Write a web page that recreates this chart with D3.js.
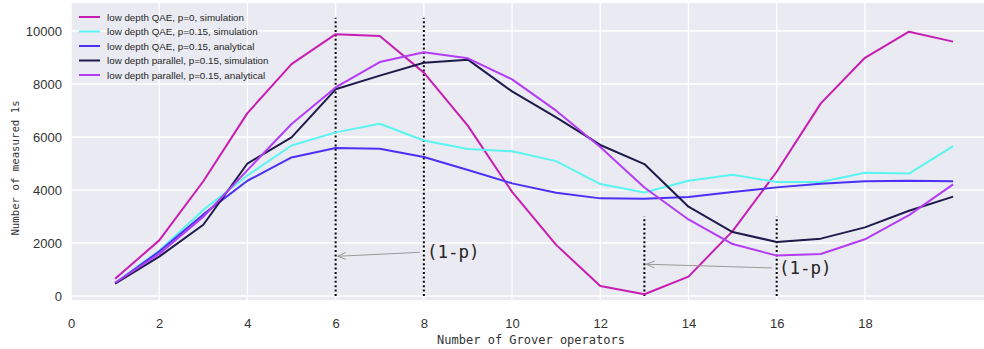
<!DOCTYPE html>
<html>
<head>
<meta charset="utf-8">
<script src="https://cdn.jsdelivr.net/npm/d3@7/dist/d3.min.js"></script>
<style>
  html, body { margin: 0; padding: 0; background: #ffffff; }
  svg { display: block; }
</style>
</head>
<body>
<svg id="chart" width="984" height="349"></svg>
<script>
// Number of Grover operators applied
const grover = [1,2,3,4,5,6,7,8,9,10,11,12,13,14,15,16,17,18,19,20];

// Counts of measured 1s per configuration
const qaeP0Sim      = [650,2100,4330,6900,8750,9880,9810,8430,6420,3930,1930,380,65,730,2450,4690,7270,8990,9975,9600];
const qaeP15Sim     = [500,1710,3250,4550,5680,6175,6500,5870,5545,5460,5090,4225,3905,4350,4580,4300,4300,4655,4620,5660];
const qaeP15Ana     = [480,1680,3080,4350,5230,5585,5560,5245,4755,4250,3900,3685,3670,3735,3925,4100,4240,4330,4350,4330];
const parP15Sim     = [470,1485,2690,5000,5985,7800,8315,8805,8920,7720,6740,5700,4980,3370,2415,2040,2165,2590,3220,3750];
const parP15Ana     = [500,1585,2990,4750,6490,7870,8830,9195,8970,8175,6995,5620,4095,2890,1960,1525,1585,2140,3055,4215];

const seriesNames  = [
  "low depth QAE, p=0, simulation",
  "low depth QAE, p=0.15, simulation",
  "low depth QAE, p=0.15, analytical",
  "low depth parallel, p=0.15, simulation",
  "low depth parallel, p=0.15, analytical"
];
const seriesColors = ["#c71db3", "#5af5f0", "#4b30f5", "#1e1a4c", "#b43cf5"];
const seriesValues = [qaeP0Sim, qaeP15Sim, qaeP15Ana, parP15Sim, parP15Ana];

const xTicks = [0,2,4,6,8,10,12,14,16,18];
const yTicks = [0,2000,4000,6000,8000,10000];

// Dotted markers: x position and top value
const markerX   = [6, 8, 13, 16];
const markerTop = [10500, 10500, 3000, 3000];

// "(1-p)" annotations: arrow target and text anchor in data units
const annText = ["(1-p)", "(1-p)"];
const annXY   = [[6, 1500], [13, 1200]];
const annTXY  = [[8.07, 1650], [16.05, 1060]];

const svg = d3.select("#chart");
const plot = { left: 71, top: 3, right: 984, bottom: 300 };

const x = d3.scaleLinear().domain([0, 20.7]).range([plot.left, plot.right]);
const y = d3.scaleLinear().domain([-150, 11057]).range([plot.bottom, plot.top]);

// Plot background
svg.append("rect")
  .attr("x", plot.left).attr("y", plot.top)
  .attr("width", plot.right - plot.left).attr("height", plot.bottom - plot.top)
  .attr("fill", "#eaeaf2");

// Grid lines
const grid = svg.append("g");
grid.selectAll("line.v").data(xTicks).join("line")
  .attr("x1", d => x(d)).attr("x2", d => x(d))
  .attr("y1", plot.top).attr("y2", plot.bottom)
  .attr("stroke", "#ffffff").attr("stroke-width", 1.3);
grid.selectAll("line.h").data(yTicks).join("line")
  .attr("y1", d => y(d)).attr("y2", d => y(d))
  .attr("x1", plot.left).attr("x2", plot.right)
  .attr("stroke", "#ffffff").attr("stroke-width", 1.3);

// Axes (labels only, no tick marks)
const xAxis = d3.axisBottom(x).tickValues(xTicks).tickSize(0).tickPadding(0).tickFormat(d3.format("d"));
const gx = svg.append("g").attr("transform", `translate(0, ${plot.bottom})`).call(xAxis);
gx.select(".domain").remove();
gx.selectAll("text")
  .attr("dy", null).attr("y", 23)
  .attr("dominant-baseline", "central")
  .attr("font-family", "'Liberation Sans', Arial, sans-serif")
  .attr("font-size", 13).attr("fill", "#333333");

const yAxis = d3.axisLeft(y).tickValues(yTicks).tickSize(0).tickPadding(0).tickFormat(d3.format("d"));
const gy = svg.append("g").attr("transform", `translate(${plot.left}, 0)`).call(yAxis);
gy.select(".domain").remove();
gy.selectAll("text")
  .attr("x", -9).attr("dy", null)
  .attr("dominant-baseline", "central")
  .attr("font-family", "'Liberation Sans', Arial, sans-serif")
  .attr("font-size", 13).attr("fill", "#333333");

// Axis titles
svg.append("text")
  .attr("x", 531).attr("y", 340)
  .attr("text-anchor", "middle").attr("dominant-baseline", "central")
  .attr("font-family", "'DejaVu Sans Mono', monospace")
  .attr("font-size", 12).attr("fill", "#333333")
  .text("Number of Grover operators");

svg.append("text")
  .attr("transform", "translate(15, 168) rotate(-90)")
  .attr("text-anchor", "middle").attr("dominant-baseline", "central")
  .attr("font-family", "'DejaVu Sans Mono', monospace")
  .attr("font-size", 10.7).attr("fill", "#333333")
  .text("Number of measured 1s");

// Dotted vertical markers
svg.append("g").selectAll("line").data(markerX).join("line")
  .attr("x1", d => x(d)).attr("x2", d => x(d))
  .attr("y1", y(0)).attr("y2", (d, i) => y(markerTop[i]))
  .attr("stroke", "#000000").attr("stroke-width", 2)
  .attr("stroke-dasharray", "2,2.4");

// Data lines
const line = d3.line().x((d, i) => x(grover[i])).y(d => y(d));
svg.append("g").selectAll("path").data(seriesValues).join("path")
  .attr("d", d => line(d))
  .attr("fill", "none")
  .attr("stroke", (d, i) => seriesColors[i])
  .attr("stroke-width", 2)
  .attr("stroke-linejoin", "round");

// Annotations with open arrowheads
const ann = svg.append("g");
annText.forEach((t, i) => {
  const tipX = x(annXY[i][0]) + 2, tipY = y(annXY[i][1]);
  const txtX = x(annTXY[i][0]), txtY = y(annTXY[i][1]);
  const tailX = txtX - 7, tailY = txtY;
  ann.append("line")
    .attr("x1", tailX).attr("y1", tailY).attr("x2", tipX).attr("y2", tipY)
    .attr("stroke", "#999999").attr("stroke-width", 1);
  const ang = Math.atan2(tailY - tipY, tailX - tipX);
  const hl = 9, hw = 0.4;
  ann.append("path")
    .attr("d", `M${tipX + hl * Math.cos(ang + hw)},${tipY + hl * Math.sin(ang + hw)} L${tipX},${tipY} L${tipX + hl * Math.cos(ang - hw)},${tipY + hl * Math.sin(ang - hw)}`)
    .attr("fill", "none").attr("stroke", "#999999").attr("stroke-width", 1);
  ann.append("text")
    .attr("x", txtX).attr("y", txtY)
    .attr("dominant-baseline", "central")
    .attr("font-family", "'DejaVu Sans Mono', monospace")
    .attr("font-size", 17.5).attr("fill", "#262626")
    .text(t);
});

// Legend
const legend = svg.append("g");
seriesNames.forEach((name, i) => {
  const ly = 17 + i * 14.5;
  legend.append("line")
    .attr("x1", 79).attr("x2", 100).attr("y1", ly).attr("y2", ly)
    .attr("stroke", seriesColors[i]).attr("stroke-width", 2);
  legend.append("text")
    .attr("x", 107).attr("y", ly)
    .attr("dominant-baseline", "central")
    .attr("font-family", "'Liberation Sans', Arial, sans-serif")
    .attr("font-size", 9.8).attr("fill", "#262626")
    .text(name);
});
</script>
</body>
</html>
